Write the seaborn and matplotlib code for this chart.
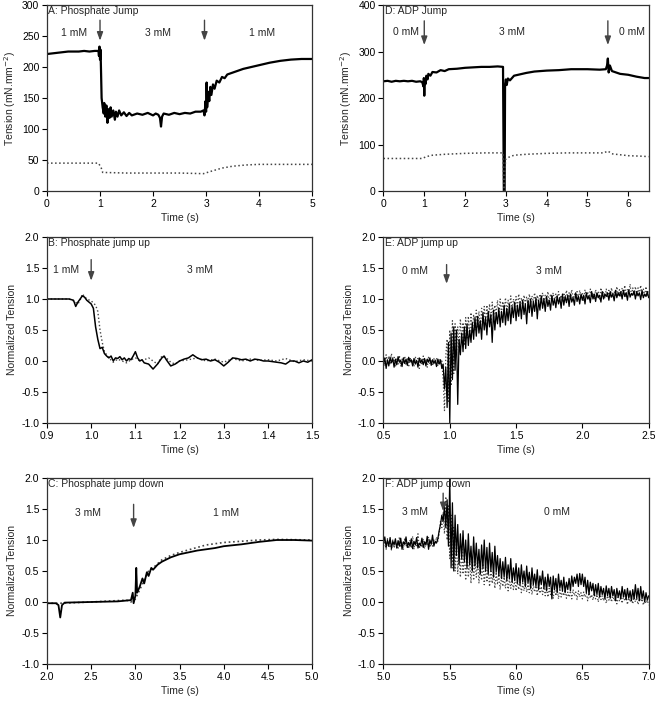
import numpy as np
import pandas as pd
import matplotlib.pyplot as plt
import seaborn as sns
from matplotlib.ticker import FormatStrFormatter

# Panel A: phosphate jump (mN/mm^2)
a_time = [0.0, 0.1, 0.2, 0.3, 0.4, 0.5, 0.6, 0.7, 0.8, 0.9, 0.97, 0.98, 0.99, 1.0, 1.01, 1.02,
          1.03, 1.05, 1.07, 1.08, 1.1, 1.12, 1.14, 1.16, 1.18, 1.2, 1.22, 1.25, 1.28, 1.3, 1.33,
          1.36, 1.4, 1.45, 1.5, 1.55, 1.6, 1.7, 1.8, 1.9, 2.0, 2.05, 2.1, 2.13, 2.15, 2.17, 2.2,
          2.3, 2.4, 2.5, 2.6, 2.7, 2.8, 2.9, 2.95, 2.97, 2.99, 3.0, 3.01, 3.02, 3.04, 3.06, 3.08,
          3.1, 3.13, 3.16, 3.2, 3.25, 3.3, 3.35, 3.4, 3.5, 3.6, 3.7, 3.8, 3.9, 4.0, 4.2, 4.4,
          4.6, 4.8, 5.0]
a_tension = [221, 222, 223, 224, 225, 225, 225, 226, 225, 226, 226, 218, 233, 212, 228, 190,
             150, 135, 125, 142, 120, 138, 110, 132, 118, 135, 120, 130, 115, 128, 120,
             130, 122, 127, 121, 126, 122, 125, 123, 126, 122, 125, 123, 118, 104, 120, 125,
             123, 126, 124, 126, 125, 128, 128, 130, 122, 145, 128, 175, 135, 160, 145, 168,
             155, 172, 165, 178, 175, 184, 182, 188, 191, 194, 197, 199, 201, 203, 207, 210,
             212, 213, 213]
a_rigor_time = [0.0, 0.5, 0.97, 1.02, 1.05, 1.5, 2.0, 2.5, 2.95, 3.1, 3.3, 3.5, 3.75, 4.0, 4.5, 5.0]
a_rigor = [45, 45, 45, 38, 30, 29, 29, 29, 28, 32, 37, 40, 42, 43, 43, 43]

# Panel D: ADP jump (mN/mm^2)
d_time = [0.0, 0.1, 0.2, 0.3, 0.4, 0.5, 0.6, 0.7, 0.8, 0.9, 0.95, 0.98, 0.99, 1.0, 1.01, 1.03,
          1.05, 1.08, 1.1, 1.15, 1.2, 1.3, 1.4, 1.5, 1.6, 1.8, 2.0, 2.2, 2.4, 2.6, 2.8, 2.93,
          2.95, 2.97, 2.98, 3.0, 3.02, 3.05, 3.1, 3.2, 3.3, 3.5, 3.7, 4.0, 4.3, 4.6, 5.0, 5.3,
          5.45, 5.48, 5.5, 5.52, 5.55, 5.6, 5.7, 5.8, 6.0, 6.2, 6.4, 6.5]
d_tension = [236, 237, 235, 237, 236, 237, 236, 237, 235, 236, 234, 225, 243, 205, 240, 230,
             248, 240, 252, 248, 256, 255, 260, 258, 262, 263, 265, 266, 267, 267, 268, 267,
             0, 0, 225, 240, 228, 242, 238, 248, 250, 254, 257, 259, 260, 262, 262, 261,
             262, 270, 285, 255, 270, 258, 255, 252, 250, 246, 243, 243]
d_rigor_time = [0.0, 0.5, 0.95, 1.0, 1.05, 1.2, 1.5, 2.0, 2.5, 2.93, 2.95, 2.97, 2.99, 3.05,
                3.2, 3.5, 4.0, 4.5, 5.0, 5.4, 5.5, 5.6, 5.8, 6.0, 6.3, 6.5]
d_rigor = [70, 70, 70, 72, 74, 77, 79, 81, 82, 82, 0, 0, 68, 72,
           77, 79, 81, 82, 82, 82, 86, 80, 78, 76, 75, 74]

# Panel B: phosphate jump up (normalized)
b_time = [0.9, 0.95, 0.96, 0.965, 0.97, 0.975, 0.98, 0.985, 0.99, 0.995, 1.0, 1.005, 1.01,
          1.015, 1.02, 1.025, 1.03, 1.035, 1.04, 1.045, 1.05, 1.055, 1.06, 1.065, 1.07, 1.075,
          1.08, 1.085, 1.09, 1.095, 1.1, 1.105, 1.11, 1.115, 1.12, 1.13, 1.14, 1.15, 1.16,
          1.165, 1.17, 1.18, 1.19, 1.2, 1.21, 1.22, 1.23, 1.24, 1.25, 1.26, 1.27, 1.28, 1.29,
          1.3, 1.31, 1.32, 1.33, 1.34, 1.35, 1.36, 1.37, 1.38, 1.39, 1.4, 1.41, 1.42, 1.43,
          1.44, 1.45, 1.46, 1.47, 1.48, 1.49, 1.5]
b_solid = [1.0, 1.0, 0.98, 0.88, 0.95, 1.0, 1.05, 1.03, 0.98, 0.95, 0.92, 0.85, 0.55,
           0.35, 0.2, 0.22, 0.12, 0.08, 0.05, 0.08, 0.0, 0.05, 0.04, 0.07, 0.02, 0.05,
           0.0, 0.04, 0.02, 0.08, 0.15, 0.05, 0.0, 0.02, -0.03, -0.05, -0.13, -0.05, 0.05,
           0.08, 0.02, -0.08, -0.05, 0.0, 0.03, 0.05, 0.1, 0.05, 0.02, 0.03, 0.0, 0.02, -0.02,
           -0.08, -0.02, 0.05, 0.04, 0.02, 0.03, 0.0, 0.03, 0.02, 0.0, 0.0, -0.01, -0.02, -0.03,
           -0.05, 0.0, 0.0, -0.03, 0.0, -0.02, 0.02]
b_dot_time = [0.9, 0.95, 0.96, 0.97, 0.975, 0.98, 0.99, 1.0, 1.01, 1.015, 1.02, 1.025, 1.03,
              1.04, 1.05, 1.06, 1.07, 1.08, 1.09, 1.1, 1.11, 1.12, 1.13, 1.14, 1.15, 1.16,
              1.17, 1.18, 1.19, 1.2, 1.22, 1.24, 1.26, 1.28, 1.3, 1.32, 1.34, 1.36, 1.38,
              1.4, 1.42, 1.44, 1.46, 1.48, 1.5]
b_dotted = [1.0, 1.0, 0.97, 0.92, 0.98, 1.08, 1.0, 0.97, 0.9, 0.8, 0.5, 0.3, 0.15,
            0.05, -0.02, 0.03, 0.0, -0.03, 0.02, 0.05, 0.0, 0.02, 0.05, 0.0, -0.05, 0.08,
            0.05, -0.02, -0.05, 0.0, 0.02, 0.05, 0.0, 0.03, -0.02, 0.04, 0.0, 0.03, 0.01,
            0.02, 0.0, 0.04, -0.01, 0.02, 0.0]

# Panel C: phosphate jump down (normalized)
c_time = [2.0, 2.1, 2.13, 2.15, 2.17, 2.2, 2.5, 2.8, 2.95, 2.97, 2.98, 3.0, 3.01, 3.02,
          3.05, 3.08, 3.1, 3.13, 3.15, 3.18, 3.2, 3.25, 3.3, 3.4, 3.5, 3.6, 3.7, 3.8, 3.9,
          4.0, 4.2, 4.4, 4.6, 4.8, 5.0]
c_solid = [-0.02, -0.02, -0.05, -0.25, -0.05, -0.01, 0.0, 0.01, 0.03, 0.15, -0.02, 0.1, 0.55, 0.15,
           0.25, 0.38, 0.3, 0.48, 0.42, 0.55, 0.52, 0.6, 0.65, 0.72, 0.77, 0.8, 0.83, 0.85, 0.87,
           0.9, 0.93, 0.97, 1.0, 1.0, 0.99]
c_dot_time = [2.0, 2.15, 2.5, 2.9, 2.95, 3.0, 3.05, 3.1, 3.15, 3.2, 3.3, 3.4, 3.5, 3.6,
              3.7, 3.8, 3.9, 4.0, 4.2, 4.4, 4.6, 5.0]
c_dotted = [-0.02, -0.02, 0.0, 0.03, 0.0, 0.05, 0.2, 0.35, 0.5, 0.55, 0.68, 0.75, 0.8, 0.84,
            0.88, 0.92, 0.94, 0.96, 0.98, 1.0, 1.01, 1.0]

# Panel E: ADP jump up (normalized), sampled every 10 ms from 0.5 s to 2.5 s
e_solid = [
    -0.05, 0.05, -0.12, 0.02, -0.08, 0.06, -0.03, 0.04, -0.10, 0.03,
    -0.06, 0.07, -0.02, 0.01, -0.09, 0.05, -0.04, 0.03, -0.07, 0.06,
    -0.01, 0.02, -0.08, 0.04, -0.05, 0.01, -0.10, 0.05, -0.03, 0.02,
    -0.06, 0.04, -0.08, 0.03, -0.02, 0.05, -0.07, 0.02, -0.04, 0.01,
    -0.09, 0.03, -0.05, 0.02, -0.12, -0.05, -0.45, -0.10, -0.75, 0.30,
    -1.00, 0.45, -0.30, 0.55, -0.15, 0.50, -0.70, 0.35, 0.10, 0.45,
    0.15, 0.55, 0.20, 0.60, 0.25, 0.50, 0.30, 0.62, 0.35, 0.70,
    0.40, 0.72, 0.45, 0.65, 0.35, 0.78, 0.50, 0.70, 0.42, 0.80,
    0.55, 0.75, 0.30, 0.82, 0.50, 0.78, 0.60, 0.85, 0.55, 0.80,
    0.62, 0.90, 0.58, 0.85, 0.65, 0.92, 0.60, 0.88, 0.70, 0.95,
    0.65, 0.90, 0.72, 0.95, 0.68, 0.98, 0.75, 0.92, 0.60, 0.98,
    0.78, 1.00, 0.72, 0.96, 0.80, 1.02, 0.68, 0.98, 0.82, 1.05,
    0.85, 1.00, 0.80, 1.04, 0.88, 0.98, 0.82, 1.06, 0.90, 1.00,
    0.86, 1.05, 0.92, 1.02, 0.85, 1.08, 0.90, 1.04, 0.94, 1.06,
    0.88, 1.08, 0.95, 1.02, 0.90, 1.10, 0.96, 1.05, 0.92, 1.08,
    0.98, 1.06, 0.92, 1.10, 1.00, 1.05, 0.94, 1.12, 1.00, 1.08,
    0.96, 1.10, 1.02, 1.06, 0.95, 1.12, 1.00, 1.08, 1.04, 1.10,
    0.98, 1.12, 1.03, 1.08, 0.97, 1.14, 1.02, 1.10, 1.05, 1.12,
    1.00, 1.14, 1.04, 1.10, 0.98, 1.15, 1.03, 1.09, 1.06, 1.13,
    1.00, 1.12, 1.05, 1.10, 0.99, 1.14, 1.02, 1.08, 1.04, 1.12,
    1.02]
e_dotted = [
    0.02, -0.08, 0.10, -0.03, 0.08, -0.06, 0.12, -0.02, 0.06, -0.09,
    0.04, -0.05, 0.09, -0.08, 0.03, -0.04, 0.08, -0.07, 0.05, -0.10,
    0.06, -0.04, 0.02, -0.09, 0.07, -0.03, 0.04, -0.12, 0.05, -0.06,
    0.08, -0.04, 0.03, -0.10, 0.06, -0.05, 0.02, -0.08, 0.04, -0.03,
    0.05, -0.08, 0.02, -0.06, 0.00, -0.30, -0.80, 0.10, 0.35, -0.65,
    0.50, -0.40, 0.65, -0.20, 0.60, 0.10, 0.55, 0.20, 0.68, 0.30,
    0.62, 0.25, 0.70, 0.35, 0.72, 0.40, 0.78, 0.45, 0.75, 0.50,
    0.82, 0.55, 0.80, 0.50, 0.85, 0.60, 0.88, 0.58, 0.90, 0.65,
    0.92, 0.62, 0.95, 0.70, 0.90, 0.75, 0.98, 0.72, 1.00, 0.78,
    0.96, 0.80, 1.02, 0.78, 0.98, 0.85, 1.05, 0.82, 1.00, 0.88,
    1.04, 0.86, 1.08, 0.90, 1.02, 0.88, 1.06, 0.92, 1.04, 0.90,
    1.08, 0.92, 1.05, 0.95, 1.10, 0.90, 1.06, 0.96, 1.08, 0.94,
    1.10, 0.95, 1.06, 0.98, 1.12, 0.94, 1.08, 0.99, 1.10, 0.96,
    1.08, 0.97, 1.12, 1.00, 1.06, 0.95, 1.10, 1.01, 1.14, 0.98,
    1.10, 1.00, 1.15, 0.98, 1.08, 1.02, 1.12, 0.99, 1.14, 1.03,
    1.10, 0.98, 1.15, 1.02, 1.12, 1.00, 1.16, 1.04, 1.10, 1.01,
    1.15, 1.03, 1.12, 1.00, 1.18, 1.05, 1.12, 1.02, 1.16, 1.04,
    1.14, 1.02, 1.18, 1.06, 1.12, 1.04, 1.20, 1.05, 1.15, 1.03,
    1.18, 1.06, 1.22, 1.04, 1.16, 1.08, 1.24, 1.05, 1.18, 1.07,
    1.20, 1.04, 1.18, 1.08, 1.22, 1.05, 1.16, 1.06, 1.20, 1.04,
    1.12]

# Panel F: ADP jump down (normalized), sampled every 10 ms from 5.0 s to 7.0 s
f_solid = [
    0.95, 1.05, 0.88, 1.00, 0.90, 1.04, 0.86, 0.98, 0.92, 1.02,
    0.87, 0.99, 0.90, 1.03, 0.85, 0.97, 0.93, 1.05, 0.88, 0.96,
    0.90, 1.02, 0.86, 0.98, 0.92, 1.04, 0.87, 0.95, 0.91, 1.03,
    0.88, 0.97, 0.92, 1.06, 0.85, 1.00, 0.93, 1.08, 0.90, 0.98,
    0.95, 1.02, 1.15, 1.25, 1.40, 1.30, 1.55, 1.20, 1.65, 0.90,
    2.00, 0.55, 1.60, 0.50, 1.40, 0.75, 1.25, 0.60, 1.10, 0.70,
    1.15, 0.65, 1.00, 0.55, 1.10, 0.60, 0.90, 0.50, 1.05, 0.58,
    0.95, 0.55, 0.85, 0.45, 0.92, 0.55, 1.00, 0.50, 0.88, 0.45,
    0.95, 0.50, 0.80, 0.40, 0.90, 0.48, 0.75, 0.42, 0.70, 0.38,
    0.65, 0.40, 0.72, 0.35, 0.60, 0.38, 0.70, 0.32, 0.55, 0.35,
    0.62, 0.30, 0.55, 0.28, 0.60, 0.32, 0.50, 0.25, 0.58, 0.30,
    0.48, 0.22, 0.55, 0.28, 0.45, 0.25, 0.52, 0.20, 0.42, 0.28,
    0.50, 0.22, 0.40, 0.18, 0.45, 0.25, 0.40, 0.05, 0.42, 0.20,
    0.38, 0.15, 0.45, 0.22, 0.35, 0.18, 0.40, 0.15, 0.32, 0.20,
    0.38, 0.18, 0.42, 0.25, 0.40, 0.30, 0.45, 0.25, 0.46, 0.28,
    0.45, 0.25, 0.40, 0.15, 0.35, 0.12, 0.32, 0.18, 0.30, 0.10,
    0.28, 0.12, 0.30, 0.08, 0.25, 0.12, 0.22, 0.05, 0.26, 0.10,
    0.22, 0.06, 0.25, 0.10, 0.20, 0.02, 0.22, 0.08, 0.18, 0.05,
    0.25, 0.08, 0.20, 0.04, 0.22, 0.06, 0.18, 0.02, 0.20, 0.05,
    0.28, 0.06, 0.22, 0.02, 0.25, 0.05, 0.18, 0.00, 0.15, 0.03,
    0.10]
f_dotted = [
    0.90, 0.98, 0.85, 1.02, 0.88, 0.95, 0.84, 1.00, 0.87, 0.96,
    0.92, 0.85, 1.05, 0.88, 0.97, 0.84, 1.03, 0.90, 0.95, 0.86,
    1.00, 0.87, 1.06, 0.85, 0.98, 0.90, 1.10, 0.86, 0.95, 0.88,
    1.02, 0.86, 0.98, 0.92, 1.05, 0.88, 0.96, 0.90, 1.00, 0.93,
    1.05, 0.98, 1.10, 1.30, 1.20, 1.45, 1.10, 1.70, 1.00, 1.55,
    0.70, 1.40, 0.55, 1.20, 0.50, 1.00, 0.45, 0.90, 0.40, 0.85,
    0.45, 0.80, 0.35, 0.75, 0.40, 0.70, 0.30, 0.72, 0.35, 0.65,
    0.40, 0.68, 0.30, 0.60, 0.35, 0.62, 0.28, 0.58, 0.32, 0.55,
    0.25, 0.52, 0.30, 0.50, 0.22, 0.48, 0.28, 0.45, 0.20, 0.42,
    0.25, 0.40, 0.22, 0.42, 0.18, 0.38, 0.22, 0.35, 0.20, 0.36,
    0.18, 0.35, 0.20, 0.32, 0.15, 0.30, 0.18, 0.33, 0.16, 0.28,
    0.15, 0.30, 0.12, 0.28, 0.16, 0.26, 0.10, 0.28, 0.14, 0.25,
    0.12, 0.24, 0.10, 0.26, 0.08, 0.22, 0.12, 0.20, 0.06, 0.22,
    0.10, 0.20, 0.05, 0.22, 0.08, 0.18, 0.10, 0.20, 0.06, 0.16,
    0.08, 0.18, 0.05, 0.20, 0.10, 0.16, 0.04, 0.18, 0.08, 0.15,
    0.05, 0.16, 0.08, 0.14, 0.02, 0.15, 0.06, 0.12, 0.03, 0.14,
    0.05, 0.12, 0.00, 0.13, 0.04, 0.10, 0.02, 0.12, -0.02, 0.10,
    0.03, 0.11, 0.00, 0.12, 0.02, 0.08, -0.03, 0.10, 0.01, 0.08,
    -0.02, 0.10, 0.02, 0.07, -0.04, 0.09, 0.00, 0.06, -0.03, 0.08,
    0.00, 0.07, -0.04, 0.06, 0.01, 0.05, -0.05, 0.04, -0.02, 0.03,
    -0.05]

e_time = np.linspace(0.5, 2.5, len(e_solid))
f_time = np.linspace(5.0, 7.0, len(f_solid))

sns.set_style("ticks")
plt.rcParams['font.family'] = ['Liberation Sans', 'DejaVu Sans']
fs = 7.5

fig = plt.figure(figsize=(6.58, 7.01), dpi=100)
left_x, right_x, w = 0.0714, 0.5828, 0.4030
h = 0.2653
ax_a = fig.add_axes([left_x, 0.7275, w, h])
ax_d = fig.add_axes([right_x, 0.7275, w, h])
ax_b = fig.add_axes([left_x, 0.3966, w, h])
ax_e = fig.add_axes([right_x, 0.3966, w, h])
ax_c = fig.add_axes([left_x, 0.0528, w, h])
ax_f = fig.add_axes([right_x, 0.0528, w, h])

solid = dict(color="black", estimator=None, sort=False)
dotted = dict(color="#444444", estimator=None, sort=False, linestyle=":")

sns.lineplot(x=a_time, y=a_tension, ax=ax_a, lw=1.6, **solid)
sns.lineplot(x=a_rigor_time, y=a_rigor, ax=ax_a, lw=1.1, **dotted)
sns.lineplot(x=d_time, y=d_tension, ax=ax_d, lw=1.6, **solid)
sns.lineplot(x=d_rigor_time, y=d_rigor, ax=ax_d, lw=1.1, **dotted)
sns.lineplot(x=b_dot_time, y=b_dotted, ax=ax_b, lw=1.0, **dotted)
sns.lineplot(x=b_time, y=b_solid, ax=ax_b, lw=1.1, **solid)
sns.lineplot(x=c_dot_time, y=c_dotted, ax=ax_c, lw=1.2, **dotted)
sns.lineplot(x=c_time, y=c_solid, ax=ax_c, lw=1.3, **solid)
sns.lineplot(x=e_time, y=e_dotted, ax=ax_e, lw=0.9, **dotted)
sns.lineplot(x=e_time, y=e_solid, ax=ax_e, lw=0.9, **solid)
sns.lineplot(x=f_time, y=f_dotted, ax=ax_f, lw=0.9, **dotted)
sns.lineplot(x=f_time, y=f_solid, ax=ax_f, lw=0.9, **solid)

# axis limits and ticks
ax_a.set_xlim(0, 5); ax_a.set_ylim(0, 300)
ax_a.set_xticks(range(0, 6)); ax_a.set_yticks(range(0, 301, 50))
ax_d.set_xlim(0, 6.5); ax_d.set_ylim(0, 400)
ax_d.set_xticks(range(0, 7)); ax_d.set_yticks(range(0, 401, 100))
ax_b.set_xlim(0.9, 1.5); ax_b.set_xticks(np.arange(0.9, 1.51, 0.1))
ax_e.set_xlim(0.5, 2.5); ax_e.set_xticks(np.arange(0.5, 2.51, 0.5))
ax_c.set_xlim(2.0, 5.0); ax_c.set_xticks(np.arange(2.0, 5.01, 0.5))
ax_f.set_xlim(5.0, 7.0); ax_f.set_xticks(np.arange(5.0, 7.01, 0.5))
for ax in [ax_b, ax_e, ax_c, ax_f]:
    ax.set_ylim(-1.0, 2.0)
    ax.set_yticks(np.arange(-1.0, 2.01, 0.5))
    ax.xaxis.set_major_formatter(FormatStrFormatter("%.1f"))
    ax.yaxis.set_major_formatter(FormatStrFormatter("%.1f"))
    ax.set_ylabel("Normalized Tension", fontsize=fs)

ax_a.set_ylabel("Tension (mN.mm$^{-2}$)", fontsize=fs)
ax_d.set_ylabel("Tension (mN.mm$^{-2}$)", fontsize=fs)

for ax in [ax_a, ax_b, ax_c, ax_d, ax_e, ax_f]:
    ax.set_xlabel("Time (s)", fontsize=fs, labelpad=3)
    ax.yaxis.labelpad = 3
    for sp in ax.spines.values():
        sp.set_visible(True)
        sp.set_color("#333333")
        sp.set_linewidth(0.9)
    ax.tick_params(direction="out", length=3.5, width=0.8, colors="black", labelsize=fs,
                   pad=2, top=False, right=False)

arrow = dict(arrowstyle="-|>,head_length=0.5,head_width=0.18", color="#444444", lw=1.0)

def panel(ax, title, labels, arrows):
    ax.text(0.005, 0.995, title, transform=ax.transAxes, ha="left", va="top", fontsize=fs)
    for x, y, s in labels:
        ax.text(x, y, s, ha="center", va="center", fontsize=fs)
    for x, y0, y1 in arrows:
        ax.annotate("", xy=(x, y1), xytext=(x, y0), arrowprops=arrow)

panel(ax_a, "A: Phosphate Jump",
      [(0.51, 255, "1 mM"), (2.09, 255, "3 mM"), (4.06, 255, "1 mM")],
      [(1.0, 280, 238), (2.97, 280, 238)])
panel(ax_d, "D: ADP Jump",
      [(0.55, 343, "0 mM"), (3.15, 343, "3 mM"), (6.1, 343, "0 mM")],
      [(1.0, 372, 308), (5.5, 372, 308)])
panel(ax_b, "B: Phosphate jump up",
      [(0.943, 1.47, "1 mM"), (1.246, 1.47, "3 mM")],
      [(1.0, 1.68, 1.25)])
panel(ax_e, "E: ADP jump up",
      [(0.74, 1.45, "0 mM"), (1.75, 1.45, "3 mM")],
      [(0.976, 1.6, 1.2)])
panel(ax_c, "C: Phosphate jump down",
      [(2.46, 1.44, "3 mM"), (4.03, 1.44, "1 mM")],
      [(2.98, 1.62, 1.15)])
panel(ax_f, "F: ADP jump down",
      [(5.24, 1.45, "3 mM"), (6.31, 1.45, "0 mM")],
      [(5.45, 1.8, 1.42)])

fig.savefig("out.png", dpi=100)
